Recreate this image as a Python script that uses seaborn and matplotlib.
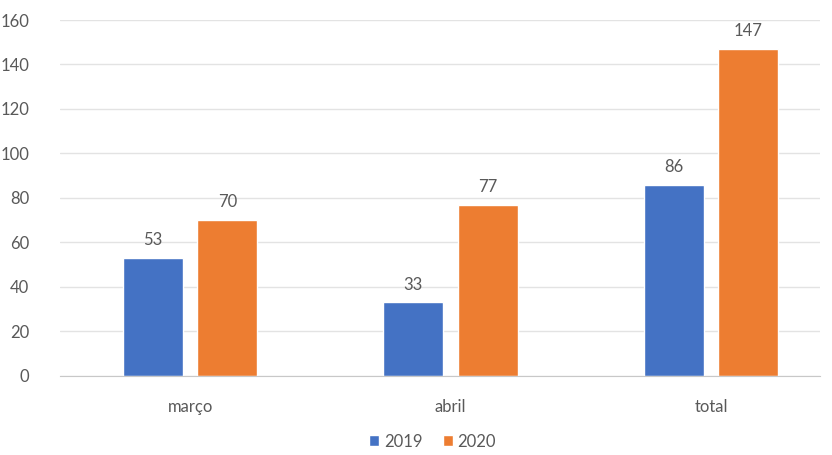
import matplotlib
matplotlib.use("Agg")
import matplotlib.pyplot as plt
import seaborn as sns
import pandas as pd

categories = ["março", "abril", "total"]
years = ["2019", "2020"]
values_2019 = [53, 33, 86]
values_2020 = [70, 77, 147]

df = pd.DataFrame({
    "categoria": categories * 2,
    "ano": ["2019"] * 3 + ["2020"] * 3,
    "valor": values_2019 + values_2020,
})

sns.set_style("white")
plt.rcParams["font.family"] = ["Lato", "DejaVu Sans"]
txt = "#595959"

fig = plt.figure(figsize=(8.32, 4.55), dpi=100)
ax = fig.add_axes([0.072, 0.174, 0.914, 0.782])

sns.barplot(data=df, x="categoria", y="valor", hue="ano", order=categories,
            hue_order=years, palette=["#4472C4", "#ED7D31"], saturation=1,
            width=0.573, gap=0.195, ax=ax, legend=True)

for cont in ax.containers:
    ax.bar_label(cont, padding=7, fontsize=12, color=txt)

ax.set_xlim(-0.5, 2.42)
ax.set_ylim(0, 160)
ax.set_yticks(range(0, 161, 20))
ax.yaxis.grid(True, color="#e3e3e3", linewidth=1)
ax.set_axisbelow(True)
ax.set_xlabel("")
ax.set_ylabel("")
for s in ["top", "right", "left"]:
    ax.spines[s].set_visible(False)
ax.spines["bottom"].set_color("#c8c8c8")
ax.tick_params(axis="both", length=0, labelsize=12, colors=txt)
ax.tick_params(axis="x", pad=17)
ax.tick_params(axis="y", pad=22)

ax.legend(loc="upper center", bbox_to_anchor=(0.49, -0.12), ncol=2, frameon=False,
          fontsize=12, handlelength=0.6, handleheight=0.6, columnspacing=1.2,
          handletextpad=0.3, labelcolor=txt)

fig.savefig("out.png", dpi=100)
